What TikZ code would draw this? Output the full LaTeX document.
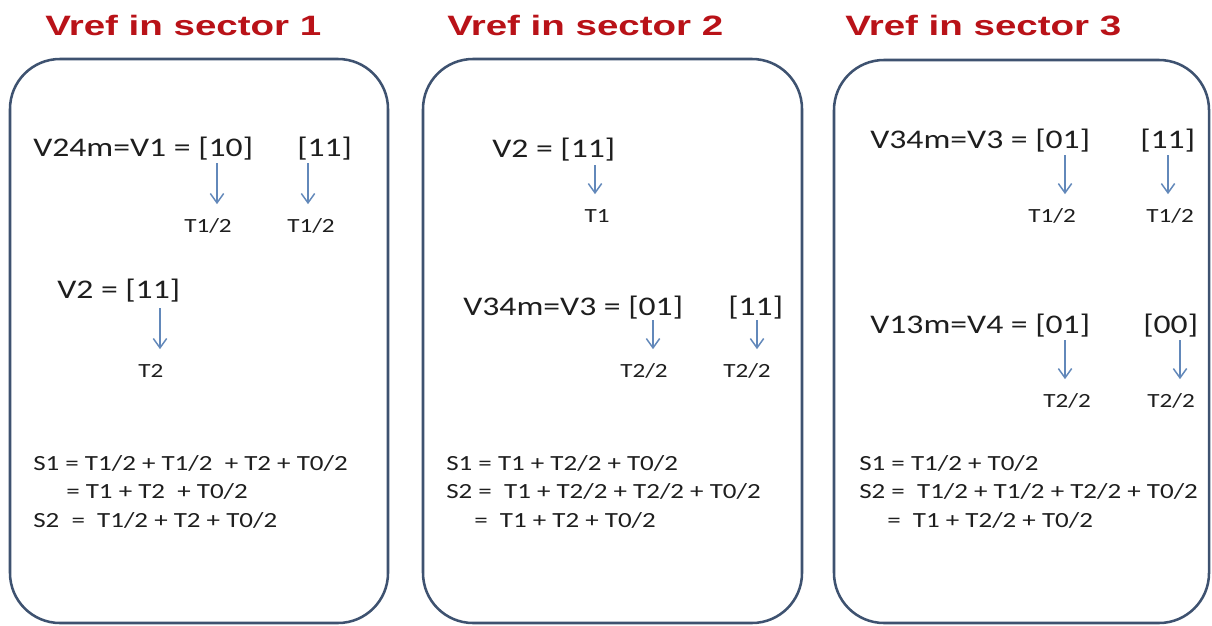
\documentclass[tikz,border=0pt]{standalone}
\usepackage{fontspec}
\setmainfont{Carlito}[FakeStretch=1.25]
\newfontfamily\titlefont{Liberation Sans}[FakeStretch=1.375]
\usetikzlibrary{arrows.meta}

\definecolor{titlered}{RGB}{185,18,24}
\definecolor{boxblue}{RGB}{62,82,112}
\definecolor{arrowblue}{RGB}{98,136,186}
\definecolor{ink}{RGB}{30,30,30}

\tikzset{
  sectorbox/.style={draw=boxblue, line width=1.9pt, rounded corners=37.5pt},
  sectortitle/.style={anchor=base west, inner sep=0pt, text=titlered,
    font=\titlefont\bfseries\fontsize{21}{25}\selectfont},
  vecline/.style={anchor=base west, inner sep=0pt, text=ink,
    font=\fontsize{20.2}{24}\selectfont},
  timelabel/.style={anchor=base, inner sep=0pt, text=ink, text height=9.7pt,
    text depth=0pt, font=\fontsize{15.1}{18}\selectfont},
  sumline/.style={anchor=base west, inner sep=0pt, text=ink,
    font=\fontsize{16.2}{19}\selectfont},
  maps/.style={draw=arrowblue, line width=1.1pt, shorten >=11pt,
    -{Straight Barb[length=7pt,width=10pt]}}
}

\begin{document}
\begin{tikzpicture}[x=0.75pt,y=-0.75pt]
\useasboundingbox[fill=white] (0,0) rectangle (1212,625);

% ---------- sector 1 ----------
\node[sectortitle] (title1) at (45,35) {Vref in sector 1};
\draw[sectorbox] (10,59) rectangle (388,623);
\node[vecline] (s1v1) at (33,156) {V24m=V1 = [10]};
\node[vecline] (s1v1b) at (297,156) {[11]};
\node[timelabel] (s1t1) at (208,232) {T1/2};
\node[timelabel] (s1t2) at (311,232) {T1/2};
\coordinate (s1a1) at (217,163);
\coordinate (s1a2) at (308,163);
\draw[maps] (s1a1) -- (s1a1 |- s1t1.north);
\draw[maps] (s1a2) -- (s1a2 |- s1t2.north);
\node[vecline] (s1v2) at (57,298) {V2 = [11]};
\node[timelabel] (s1t3) at (151,377) {T2};
\coordinate (s1a3) at (160,308);
\draw[maps] (s1a3) -- (s1a3 |- s1t3.north);
\node[sumline] (s1e1) at (33,470) {S1 = T1/2 + T1/2 \ + T2 + T0/2};
\node[sumline] (s1e2) at (66,498) {= T1 + T2 \ + T0/2};
\node[sumline] (s1e3) at (33,527) {S2 \ = \ T1/2 + T2 + T0/2};

% ---------- sector 2 ----------
\node[sectortitle] (title2) at (447,35) {Vref in sector 2};
\draw[sectorbox] (423,59) rectangle (802,623);
\node[vecline] (s2v2) at (492,157) {V2 = [11]};
\node[timelabel] (s2t1) at (597,222) {T1};
\coordinate (s2a1) at (595,165);
\draw[maps] (s2a1) -- (s2a1 |- s2t1.north);
\node[vecline] (s2v3) at (463,315) {V34m=V3 = [01]};
\node[vecline] (s2v3b) at (728,315) {[11]};
\node[timelabel] (s2t2) at (644,377) {T2/2};
\node[timelabel] (s2t3) at (747,377) {T2/2};
\coordinate (s2a2) at (653,320);
\coordinate (s2a3) at (757,320);
\draw[maps] (s2a2) -- (s2a2 |- s2t2.north);
\draw[maps] (s2a3) -- (s2a3 |- s2t3.north);
\node[sumline] (s2e1) at (446,470) {S1 = T1 + T2/2 + T0/2};
\node[sumline] (s2e2) at (446,498) {S2 = \ T1 + T2/2 + T2/2 + T0/2};
\node[sumline] (s2e3) at (474,527) {= \ T1 + T2 + T0/2};

% ---------- sector 3 ----------
\node[sectortitle] (title3) at (845,35) {Vref in sector 3};
\draw[sectorbox] (834,60) rectangle (1209,623);
\node[vecline] (s3v3) at (870,148) {V34m=V3 = [01]};
\node[vecline] (s3v3b) at (1140,148) {[11]};
\node[timelabel] (s3t1) at (1052,222) {T1/2};
\node[timelabel] (s3t2) at (1170,222) {T1/2};
\coordinate (s3a1) at (1065,155);
\coordinate (s3a2) at (1168,155);
\draw[maps] (s3a1) -- (s3a1 |- s3t1.north);
\draw[maps] (s3a2) -- (s3a2 |- s3t2.north);
\node[vecline] (s3v4) at (870,333) {V13m=V4 = [01]};
\node[vecline] (s3v4b) at (1143,333) {[00]};
\node[timelabel] (s3t3) at (1067,407) {T2/2};
\node[timelabel] (s3t4) at (1171,407) {T2/2};
\coordinate (s3a3) at (1065,340);
\coordinate (s3a4) at (1180,340);
\draw[maps] (s3a3) -- (s3a3 |- s3t3.north);
\draw[maps] (s3a4) -- (s3a4 |- s3t4.north);
\node[sumline] (s3e1) at (859,470) {S1 = T1/2 + T0/2};
\node[sumline] (s3e2) at (859,498) {S2 = \ T1/2 + T1/2 + T2/2 + T0/2};
\node[sumline] (s3e3) at (887,527) {= \ T1 + T2/2 + T0/2};
\end{tikzpicture}
\end{document}
